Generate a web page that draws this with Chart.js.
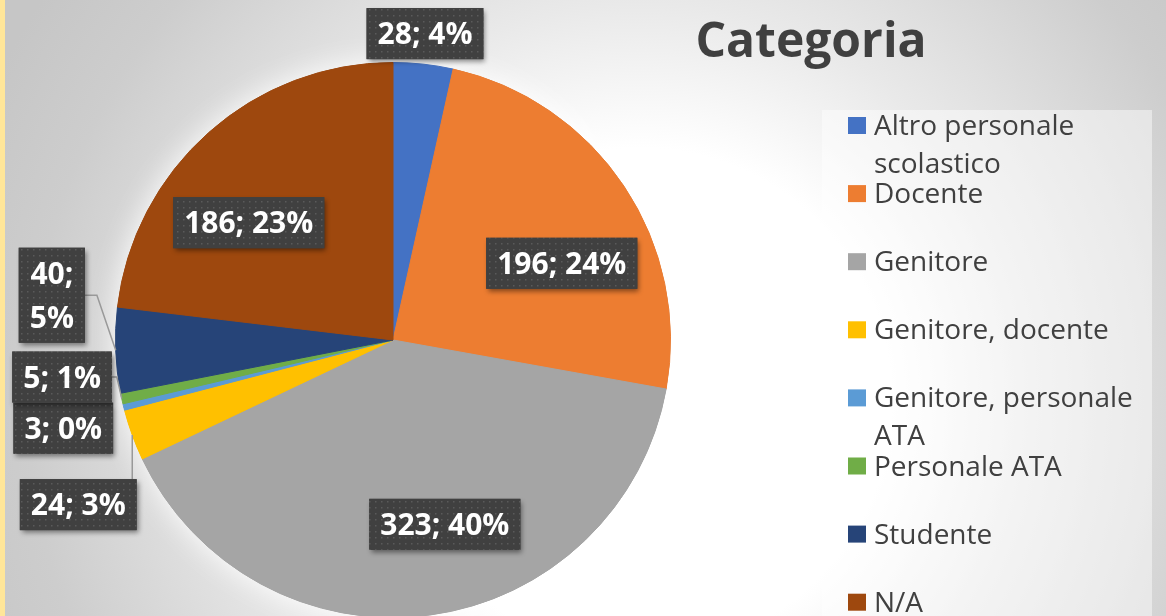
<!DOCTYPE html>
<html>
<head>
<meta charset="utf-8">
<script src="https://cdn.jsdelivr.net/npm/chart.js@4.4.1/dist/chart.umd.min.js"></script>
<style>
html, body { margin: 0; padding: 0; overflow: hidden; background: #d0d0d0; }
#wrap { width: 1166px; height: 620px; }
</style>
</head>
<body>
<div id="wrap"><canvas id="chartCat" width="1166" height="620"></canvas></div>
<script>
var categories = ['Altro personale scolastico', 'Docente', 'Genitore', 'Genitore, docente',
                  'Genitore, personale ATA', 'Personale ATA', 'Studente', 'N/A'];
var counts = [28, 196, 323, 24, 3, 5, 40, 186];
var sliceColors = ['#4472C4', '#ED7D31', '#A5A5A5', '#FFC000', '#5B9BD5', '#70AD47', '#264478', '#9E480E'];
var chartTitle = 'Categoria';

// where each data label sits: shift from slice middle (deg), distance in radii
var labelShift = [-0.3, 9.2, -8.1, -7.6, -1, 5.8, 9.6, -9.3];
var labelDist = [1.11, 0.668, 0.69, 1.28, 1.23, 1.2, 1.24, 0.67];
var labelLeader = [false, false, false, true, false, true, true, false];
var labelTwoLines = [false, false, false, false, false, false, true, false];

// excel style rounding, so the percents add to 100
function percents(vals) {
    var tot = vals.reduce(function (a, b) { return a + b; }, 0);
    var raw = vals.map(function (v) { return v / tot * 100; });
    var fl = raw.map(Math.floor);
    var left = 100 - fl.reduce(function (a, b) { return a + b; }, 0);
    var order = raw.map(function (r, i) { return i; });
    order.sort(function (a, b) { return (raw[b] - fl[b]) - (raw[a] - fl[a]); });
    for (var k = 0; k < left; k++) fl[order[k]]++;
    return fl;
}
var pct = percents(counts);

// dotted fill for the label boxes
var tile = document.createElement('canvas');
tile.width = 6; tile.height = 6;
var tctx = tile.getContext('2d');
tctx.fillStyle = '#404040';
tctx.fillRect(0, 0, 6, 6);
tctx.fillStyle = '#5a5a5a';
tctx.fillRect(3, 3, 1.5, 1.5);

var backdrop = {
    id: 'backdrop',
    beforeDraw: function (chart) {
        var ctx = chart.ctx;
        ctx.save();
        var g = ctx.createRadialGradient(640, 400, 0, 640, 400, 720);
        g.addColorStop(0, '#ffffff');
        g.addColorStop(0.35, '#ffffff');
        g.addColorStop(0.55, '#e9e9e9');
        g.addColorStop(0.85, '#cdcdcd');
        g.addColorStop(1, '#c6c6c6');
        ctx.fillStyle = g;
        ctx.fillRect(0, 0, chart.width, chart.height);
        ctx.fillStyle = '#FFE699';
        ctx.fillRect(0, 0, 5, chart.height);
        // legend panel
        ctx.fillStyle = 'rgba(255,255,255,0.45)';
        ctx.fillRect(822, 110, 330, 520);
        ctx.restore();
    },
    beforeDatasetsDraw: function (chart) {
        var arc = chart.getDatasetMeta(0).data[0];
        var ctx = chart.ctx;
        ctx.save();
        ctx.shadowColor = 'rgba(255,255,255,1)';
        ctx.shadowBlur = 30;
        ctx.fillStyle = '#a5a5a5';
        ctx.beginPath();
        ctx.arc(arc.x, arc.y, arc.outerRadius, 0, Math.PI * 2);
        ctx.fill();
        ctx.restore();
    }
};

var dataLabels = {
    id: 'dataLabels',
    afterDatasetsDraw: function (chart) {
        var ctx = chart.ctx;
        var arcs = chart.getDatasetMeta(0).data;
        ctx.save();
        ctx.font = 'bold 30px "Open Sans"';
        var boxes = [];
        for (var i = 0; i < arcs.length; i++) {
            var a = arcs[i];
            var mid = (a.startAngle + a.endAngle) / 2;
            var ang = mid + labelShift[i] * Math.PI / 180;
            var d = labelDist[i] * a.outerRadius;
            var cx = a.x + Math.cos(ang) * d;
            var cy = a.y + Math.sin(ang) * d;
            var lines = labelTwoLines[i] ? [counts[i] + ';', pct[i] + '%'] : [counts[i] + '; ' + pct[i] + '%'];
            var w = 0;
            lines.forEach(function (t) { w = Math.max(w, ctx.measureText(t).width); });
            w += 22;
            var h = 51 + (lines.length - 1) * 44;
            var b = { x: cx - w / 2, y: cy - h / 2, w: w, h: h, cx: cx, cy: cy, lines: lines };
            boxes.push(b);
            if (labelLeader[i]) {
                var px = a.x + Math.cos(mid) * a.outerRadius;
                var py = a.y + Math.sin(mid) * a.outerRadius;
                ctx.strokeStyle = '#999999';
                ctx.lineWidth = 1.5;
                ctx.beginPath();
                if (px >= b.x && px <= b.x + b.w) {
                    ctx.moveTo(px, py);
                    ctx.lineTo(px, py < b.y ? b.y : b.y + b.h);
                } else {
                    var el = Math.min(12, (px - (b.x + b.w)) / 2);
                    ctx.moveTo(b.x + b.w, cy);
                    ctx.lineTo(b.x + b.w + el, cy);
                    ctx.lineTo(px, py);
                }
                ctx.stroke();
            }
        }
        var pattern = ctx.createPattern(tile, 'repeat');
        boxes.forEach(function (b) {
            ctx.save();
            ctx.shadowColor = 'rgba(0,0,0,0.45)';
            ctx.shadowBlur = 5;
            ctx.shadowOffsetX = 2;
            ctx.shadowOffsetY = 3;
            ctx.fillStyle = '#404040';
            ctx.fillRect(b.x, b.y, b.w, b.h);
            ctx.restore();
            ctx.fillStyle = pattern;
            ctx.fillRect(b.x, b.y, b.w, b.h);
            ctx.fillStyle = '#ffffff';
            ctx.textAlign = 'center';
            ctx.textBaseline = 'alphabetic';
            var n = b.lines.length;
            b.lines.forEach(function (t, k) {
                var ly = b.cy - (n - 1) * 22 + k * 44;
                ctx.fillText(t, b.cx, ly + 10.7);
            });
        });
        ctx.restore();
    },
    afterDraw: function (chart) {
        var ctx = chart.ctx;
        ctx.save();
        ctx.fillStyle = '#404040';
        ctx.textAlign = 'center';
        ctx.font = 'bold 48px "Open Sans"';
        ctx.fillText(chartTitle, 811, 57);
        ctx.textAlign = 'left';
        ctx.font = '28px "Open Sans"';
        for (var i = 0; i < categories.length; i++) {
            var base = 135 + i * 68.1;
            ctx.fillStyle = sliceColors[i];
            ctx.fillRect(848, base - 18, 18, 17);
            ctx.fillStyle = '#404040';
            // wrap on words to the panel width
            var words = categories[i].split(' ');
            var line = '';
            var rows = [];
            words.forEach(function (wd) {
                var test = line ? line + ' ' + wd : wd;
                if (line && ctx.measureText(test).width > 268) {
                    rows.push(line);
                    line = wd;
                } else {
                    line = test;
                }
            });
            rows.push(line);
            rows.forEach(function (r, k) {
                ctx.fillText(r, 874, base + k * 38);
            });
        }
        ctx.restore();
    }
};

new Chart(document.getElementById('chartCat'), {
    type: 'pie',
    data: {
        labels: categories,
        datasets: [{
            data: counts,
            backgroundColor: sliceColors,
            borderColor: sliceColors,
            borderWidth: 1
        }]
    },
    options: {
        responsive: false,
        animation: false,
        layout: { padding: { left: 115, right: 495, top: 62, bottom: 2 } },
        plugins: {
            legend: { display: false },
            tooltip: { enabled: false },
            title: { display: false }
        }
    },
    plugins: [backdrop, dataLabels]
});
</script>
</body>
</html>
